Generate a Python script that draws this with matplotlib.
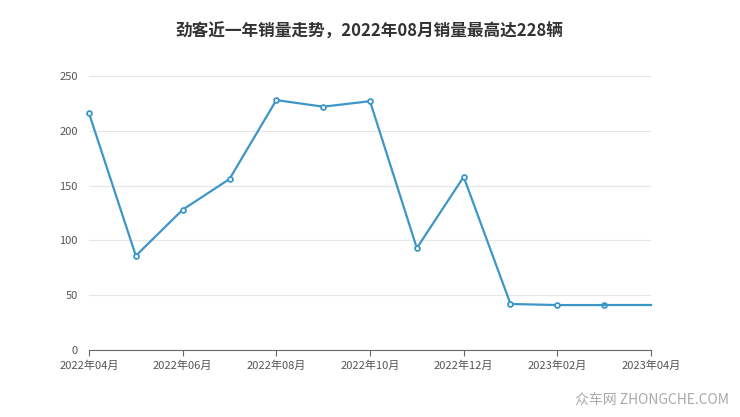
import matplotlib
matplotlib.use("Agg")
import matplotlib.pyplot as plt

plt.rcParams['font.family'] = ['Noto Sans CJK SC', 'DejaVu Sans']

months = ["2022年04月","2022年05月","2022年06月","2022年07月","2022年08月","2022年09月",
          "2022年10月","2022年11月","2022年12月","2023年01月","2023年02月","2023年03月","2023年04月"]
sales = [216, 86, 128, 156, 228, 222, 227, 93, 158, 42, 41, 41, 41]
title = "劲客近一年销量走势，2022年08月销量最高达228辆"

fig = plt.figure(figsize=(7.4, 4.17), dpi=100)
ax = fig.add_axes([89/740, 1-350/417, (651-89)/740, (350-76)/417])
x = list(range(len(months)))
ax.plot(x[:-1], sales[:-1], color='#3d96c8', lw=1.6, marker='o', ms=3.5,
        mfc='white', mec='#3d96c8', mew=1.3, zorder=3, clip_on=False)
ax.plot(x[-2:], sales[-2:], color='#3d96c8', lw=1.6, zorder=3, clip_on=False)
ax.set_xlim(0, 12)
ax.set_ylim(0, 250)
ax.set_yticks([0, 50, 100, 150, 200, 250])
ax.set_xticks(x[::2])
ax.set_xticklabels(months[::2])
ax.grid(axis='y', color='#e6e6e6', lw=0.8)
ax.set_axisbelow(True)
for s in ['top', 'right', 'left']:
    ax.spines[s].set_visible(False)
ax.spines['bottom'].set_color('#666666')
ax.tick_params(axis='y', length=0, labelsize=8, colors='#555555', pad=8)
ax.tick_params(axis='x', length=4, labelsize=8, colors='#555555', color='#666666')
fig.text(0.5, 1-32/417, title, ha='center', va='center', fontsize=12, fontweight='bold', color='#333333')
fig.text(0.985, 0.04, "众车网 ZHONGCHE.COM", ha='right', va='center', fontsize=10, color='#aaaaaa')
fig.savefig("out.png", dpi=100)
